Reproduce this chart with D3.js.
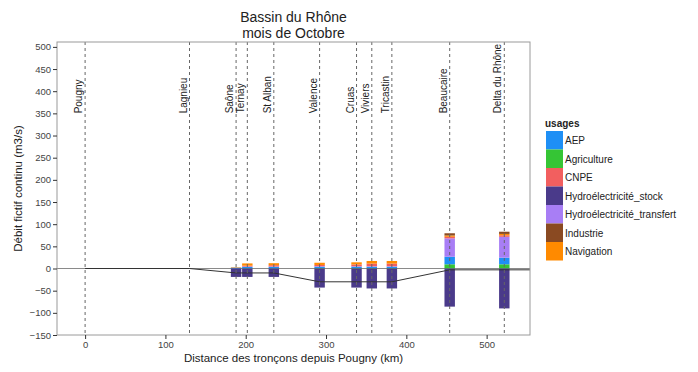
<!DOCTYPE html>
<html><head><meta charset="utf-8">
<script src="https://cdn.jsdelivr.net/npm/d3@7"></script>
<style>body{margin:0;background:#fff;font-family:"Liberation Sans",Arial,sans-serif;}</style>
</head><body>
<svg id="c" width="698" height="372"></svg>
<script>
// Sites (km from Pougny)
const sites = ["Pougny","Lagnieu","Saône","Ternay","St Alban","Valence","Cruas","Viviers","Tricastin","Beaucaire","Delta du Rhône"];
const siteKm = [0,130,188,202,235,292,338,357,382,454,522];
// bar sites
const barSites = ["Saône","Ternay","St Alban","Valence","Cruas","Viviers","Tricastin","Beaucaire","Delta du Rhône"];
const barKm = [188,202,235,292,338,357,382,454,522];
// usages values (m3/s)
const AEP =                      [2, 3, 3, 3, 3, 3, 3, 17, 15];
const Agriculture =              [0, 0.5, 0.5, 1, 1, 1, 1, 9.5, 9.5];
const CNPE =                     [0, 2, 3, 3, 4, 6, 6, 3.5, 3.5];
const Hydro_stock =              [-19, -19, -19, -43, -43, -45, -45, -86, -90];
const Hydro_transfert =          [0, 1, 1, 1, 1, 1, 1, 41.5, 47];
const Industrie =                [0, 0, 0, 0, 0, 0, 0, 5, 5];
const Navigation =               [1, 5, 4.5, 5, 5, 6, 6, 3, 3];
// line (débit fictif continu)
const lineKm =  [0, 130, 188, 202, 235, 292, 338, 357, 382, 454, 522, 554];
const lineVal = [0, 0, -10, -10, -10, -30, -30, -30, -30, -3, -3, -3];

const usages = ["AEP","Agriculture","CNPE","Hydroélectricité_stock","Hydroélectricité_transfert","Industrie","Navigation"];
const usageColors = ["#1E8FF5","#35C535","#F25F5F","#4A3A8A","#A87EF5","#8A4A22","#FF8A00"];
const series = {AEP, Agriculture, CNPE, "Hydroélectricité_stock":Hydro_stock, "Hydroélectricité_transfert":Hydro_transfert, Industrie, Navigation};
const stackOrder = ["Agriculture","AEP","Hydroélectricité_transfert","CNPE","Navigation","Industrie"];

const yTicks = d3.range(-150, 501, 50);
const xTicks = [0,100,200,300,400,500];

const svg = d3.select("#c");
const L = 57, R = 530, T = 42, B = 335;
const x = d3.scaleLinear().domain([-35, 554]).range([L, R]);
const y = d3.scaleLinear().domain([-150, 511]).range([B, T]);
const col = d3.scaleOrdinal().domain(usages).range(usageColors);

svg.append("defs").append("clipPath").attr("id","clip").append("rect")
  .attr("x",L).attr("y",T).attr("width",R-L).attr("height",B-T);

const g = svg.append("g").attr("clip-path","url(#clip)");
g.append("line").attr("x1",L).attr("x2",R).attr("y1",y(0)).attr("y2",y(0))
  .attr("stroke","#8a8a8a").attr("stroke-width",1);

const bw = x(13) - x(0);
barKm.forEach((km,i)=>{
  let pos = 0;
  stackOrder.forEach(u=>{
    const v = series[u][i];
    if (v > 0) {
      g.append("rect").attr("x", x(km)-bw/2).attr("width", bw)
        .attr("y", y(pos+v)).attr("height", y(pos)-y(pos+v)).attr("fill", col(u));
      pos += v;
    }
  });
  const n = Hydro_stock[i];
  g.append("rect").attr("x", x(km)-bw/2).attr("width", bw)
    .attr("y", y(0)).attr("height", y(n)-y(0)).attr("fill", col("Hydroélectricité_stock"));
});

g.append("path").datum(lineKm.map((k,i)=>[k,lineVal[i]]))
  .attr("d", d3.line().x(d=>x(d[0])).y(d=>y(d[1])))
  .attr("fill","none").attr("stroke","#333").attr("stroke-width",1);

siteKm.forEach(km=>{
  svg.append("line").attr("x1",x(km)).attr("x2",x(km)).attr("y1",T).attr("y2",B)
    .attr("stroke","#666").attr("stroke-width",1).attr("stroke-dasharray","3,3");
});
sites.forEach((s,i)=>{
  svg.append("text").attr("transform",`translate(${x(siteKm[i])-3},${y(350)}) rotate(-90)`)
    .attr("text-anchor","start").attr("font-size",10).attr("fill","#222").text(s);
});

svg.append("rect").attr("x",L).attr("y",T).attr("width",R-L).attr("height",B-T)
  .attr("fill","none").attr("stroke","#9a9a9a").attr("stroke-width",1);

const ya = svg.append("g").attr("transform",`translate(${L},0)`)
  .call(d3.axisLeft(y).tickValues(yTicks).tickSize(4).tickPadding(2));
const xa = svg.append("g").attr("transform",`translate(0,${B})`)
  .call(d3.axisBottom(x).tickValues(xTicks).tickSize(4).tickPadding(2));
[ya,xa].forEach(a=>{
  a.select(".domain").remove();
  a.selectAll("line").attr("stroke","#333");
  a.selectAll("text").attr("font-size",9.5).attr("fill","#444").attr("font-family","Liberation Sans, Arial, sans-serif");
});

svg.append("text").attr("x",(L+R)/2).attr("y",22).attr("text-anchor","middle").attr("font-size",14).attr("fill","#222").text("Bassin du Rhône");
svg.append("text").attr("x",(L+R)/2).attr("y",38).attr("text-anchor","middle").attr("font-size",14).attr("fill","#222").text("mois de Octobre");
svg.append("text").attr("x",(L+R)/2).attr("y",362).attr("text-anchor","middle").attr("font-size",11.5).attr("fill","#222").text("Distance des tronçons depuis Pougny (km)");
svg.append("text").attr("transform",`translate(22,${(T+B)/2}) rotate(-90)`).attr("text-anchor","middle").attr("font-size",11.5).attr("fill","#222").text("Débit fictif continu (m3/s)");

const lg = svg.append("g");
lg.append("text").attr("x",545).attr("y",127).attr("font-size",10).attr("font-weight","bold").attr("fill","#222").text("usages");
usages.forEach((u,i)=>{
  lg.append("rect").attr("x",546).attr("y",131+i*18.5).attr("width",17).attr("height",18.5).attr("fill",col(u));
  lg.append("text").attr("x",565).attr("y",131+i*18.5+13).attr("font-size",10).attr("fill","#222").text(u);
});
</script>
</body></html>
